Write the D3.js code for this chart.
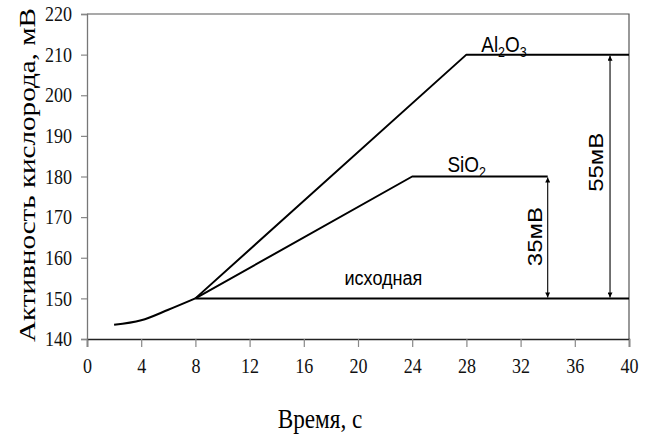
<!DOCTYPE html>
<html>
<head>
<meta charset="utf-8">
<script src="https://cdn.jsdelivr.net/npm/d3@7"></script>
<style>
  body { margin: 0; background: #fff; }
  .tick text { font-family: "Liberation Serif", "Times New Roman", serif; }
</style>
</head>
<body>
<script>
// data
var startTime = [2, 4, 6, 8],
    startValue = [143.5, 144.6, 147.2, 150];
var baseTime = [8, 40],
    baseValue = [150, 150];
var sio2Time = [8, 24, 34],
    sio2Value = [150, 180, 180];
var al2o3Time = [8, 28, 40],
    al2o3Value = [150, 210, 210];
var arrowX = [34, 38.6],
    arrowFrom = [150, 150],
    arrowTo = [180, 210],
    arrowText = ["35мВ", "55мВ"],
    arrowTextX = [33.6, 38.1],
    arrowTextY = [165.2, 183.5];
var xTicks = [0, 4, 8, 12, 16, 20, 24, 28, 32, 36, 40],
    yTicks = [140, 150, 160, 170, 180, 190, 200, 210, 220];

// chart geometry
var W = 648, H = 437;
var margin = {top: 14, right: 19, bottom: 98, left: 87},
    width = W - margin.left - margin.right,
    height = H - margin.top - margin.bottom;
var squeeze = 0.86; // the picture is a bit narrower than tall

var xScale = d3.scaleLinear().domain([0, 40]).range([0, width]),
    yScale = d3.scaleLinear().domain([140, 220]).range([height, 0]);

var svg = d3.select("body").append("svg")
  .attr("width", W)
  .attr("height", H);

var defs = svg.append("defs");
defs.append("marker")
  .attr("id", "tip")
  .attr("viewBox", "0 0 10 10")
  .attr("refX", 10).attr("refY", 5)
  .attr("markerWidth", 7).attr("markerHeight", 5)
  .attr("markerUnits", "userSpaceOnUse")
  .attr("orient", "auto-start-reverse")
  .append("path").attr("d", "M0,0 L10,5 L0,10 Z").attr("fill", "#000");

var g = svg.append("g")
  .attr("transform", "translate(" + margin.left + "," + margin.top + ")");

// frame top + right
g.append("path")
  .attr("d", "M0,0 H" + width + " V" + height)
  .attr("fill", "none")
  .attr("stroke", "#555")
  .attr("stroke-width", 1.2);

// x axis
var xAxis = g.append("g")
  .attr("transform", "translate(0," + height + ")")
  .call(d3.axisBottom(xScale).tickValues(xTicks).tickSize(8).tickPadding(11));
xAxis.select(".domain").attr("stroke", "#222").attr("stroke-width", 1.5);
xAxis.selectAll(".tick line").attr("stroke", "#888").attr("stroke-width", 1.2);

// y axis
var yAxis = g.append("g")
  .call(d3.axisLeft(yScale).tickValues(yTicks).tickSize(6).tickPadding(9));
yAxis.select(".domain").attr("stroke", "#777").attr("stroke-width", 1.3);
yAxis.selectAll(".tick line").attr("stroke", "#888").attr("stroke-width", 1.2);

svg.selectAll(".tick text")
  .attr("font-size", 21)
  .attr("fill", "#111")
  .each(function() {
    var t = d3.select(this);
    var sx = +t.attr("x") || 0;
    t.attr("transform", "translate(" + sx + ",0) scale(" + squeeze + ",1) translate(" + (-sx) + ",0)");
  });
xAxis.selectAll(".tick text").attr("dy", "0.71em");

// lines
var line = d3.line()
  .x(function(d) { return xScale(d[0]); })
  .y(function(d) { return yScale(d[1]); });

function pairs(xs, ys) { return xs.map(function(x, i) { return [x, ys[i]]; }); }

g.append("path")
  .attr("d", line.curve(d3.curveMonotoneX)(pairs(startTime, startValue)))
  .attr("fill", "none").attr("stroke", "#000").attr("stroke-width", 2);
line.curve(d3.curveLinear);
[pairs(baseTime, baseValue), pairs(sio2Time, sio2Value), pairs(al2o3Time, al2o3Value)].forEach(function(s) {
  g.append("path")
    .attr("d", line(s))
    .attr("fill", "none").attr("stroke", "#000").attr("stroke-width", 2)
    .attr("stroke-linejoin", "round");
});

// difference arrows
arrowX.forEach(function(x, i) {
  g.append("line")
    .attr("x1", xScale(x)).attr("x2", xScale(x))
    .attr("y1", yScale(arrowFrom[i]) - 1).attr("y2", yScale(arrowTo[i]) + 1)
    .attr("stroke", "#000").attr("stroke-width", 1.1)
    .attr("marker-start", "url(#tip)")
    .attr("marker-end", "url(#tip)");
  g.append("text")
    .attr("transform", "translate(" + xScale(arrowTextX[i]) + "," + yScale(arrowTextY[i]) + ") scale(" + squeeze + ",1) rotate(-90)")
    .attr("text-anchor", "middle")
    .attr("font-family", "'Liberation Sans', Arial, sans-serif")
    .attr("font-size", 24)
    .text(arrowText[i]);
});

// series labels; parts are [text, isSubscript]
function label(x, y, parts, size) {
  var t = g.append("text")
    .attr("transform", "translate(" + xScale(x) + "," + yScale(y) + ") scale(" + squeeze + ",1)")
    .attr("font-family", "'Liberation Sans', Arial, sans-serif")
    .attr("font-size", size);
  var down = false;
  parts.forEach(function(p) {
    var ts = t.append("tspan").text(p[0]);
    if (p[1]) {
      ts.attr("font-size", size * 0.66);
      if (!down) ts.attr("dy", 5);
      down = true;
    } else if (down) {
      ts.attr("dy", -5);
      down = false;
    }
  });
}
label(29.1, 210.7, [["Al"], ["2", 1], ["O"], ["3", 1]], 22);
label(26.6, 181.2, [["SiO"], ["2", 1]], 22);
label(19.0, 153.3, [["исходная"]], 21);

// axis titles
svg.append("text")
  .attr("transform", "translate(" + 320 + "," + 428 + ") scale(" + squeeze + ",1)")
  .attr("text-anchor", "middle")
  .attr("font-family", "'Liberation Serif', 'Times New Roman', serif")
  .attr("font-size", 27)
  .text("Время, с");

svg.append("text")
  .attr("transform", "translate(" + 35 + "," + 175 + ") scale(" + squeeze + ",1) rotate(-90)")
  .attr("text-anchor", "middle")
  .attr("font-family", "'Liberation Serif', 'Times New Roman', serif")
  .attr("font-size", 26)
  .attr("textLength", 334)
  .attr("lengthAdjust", "spacingAndGlyphs")
  .text("Активность кислорода, мВ");
</script>
</body>
</html>
